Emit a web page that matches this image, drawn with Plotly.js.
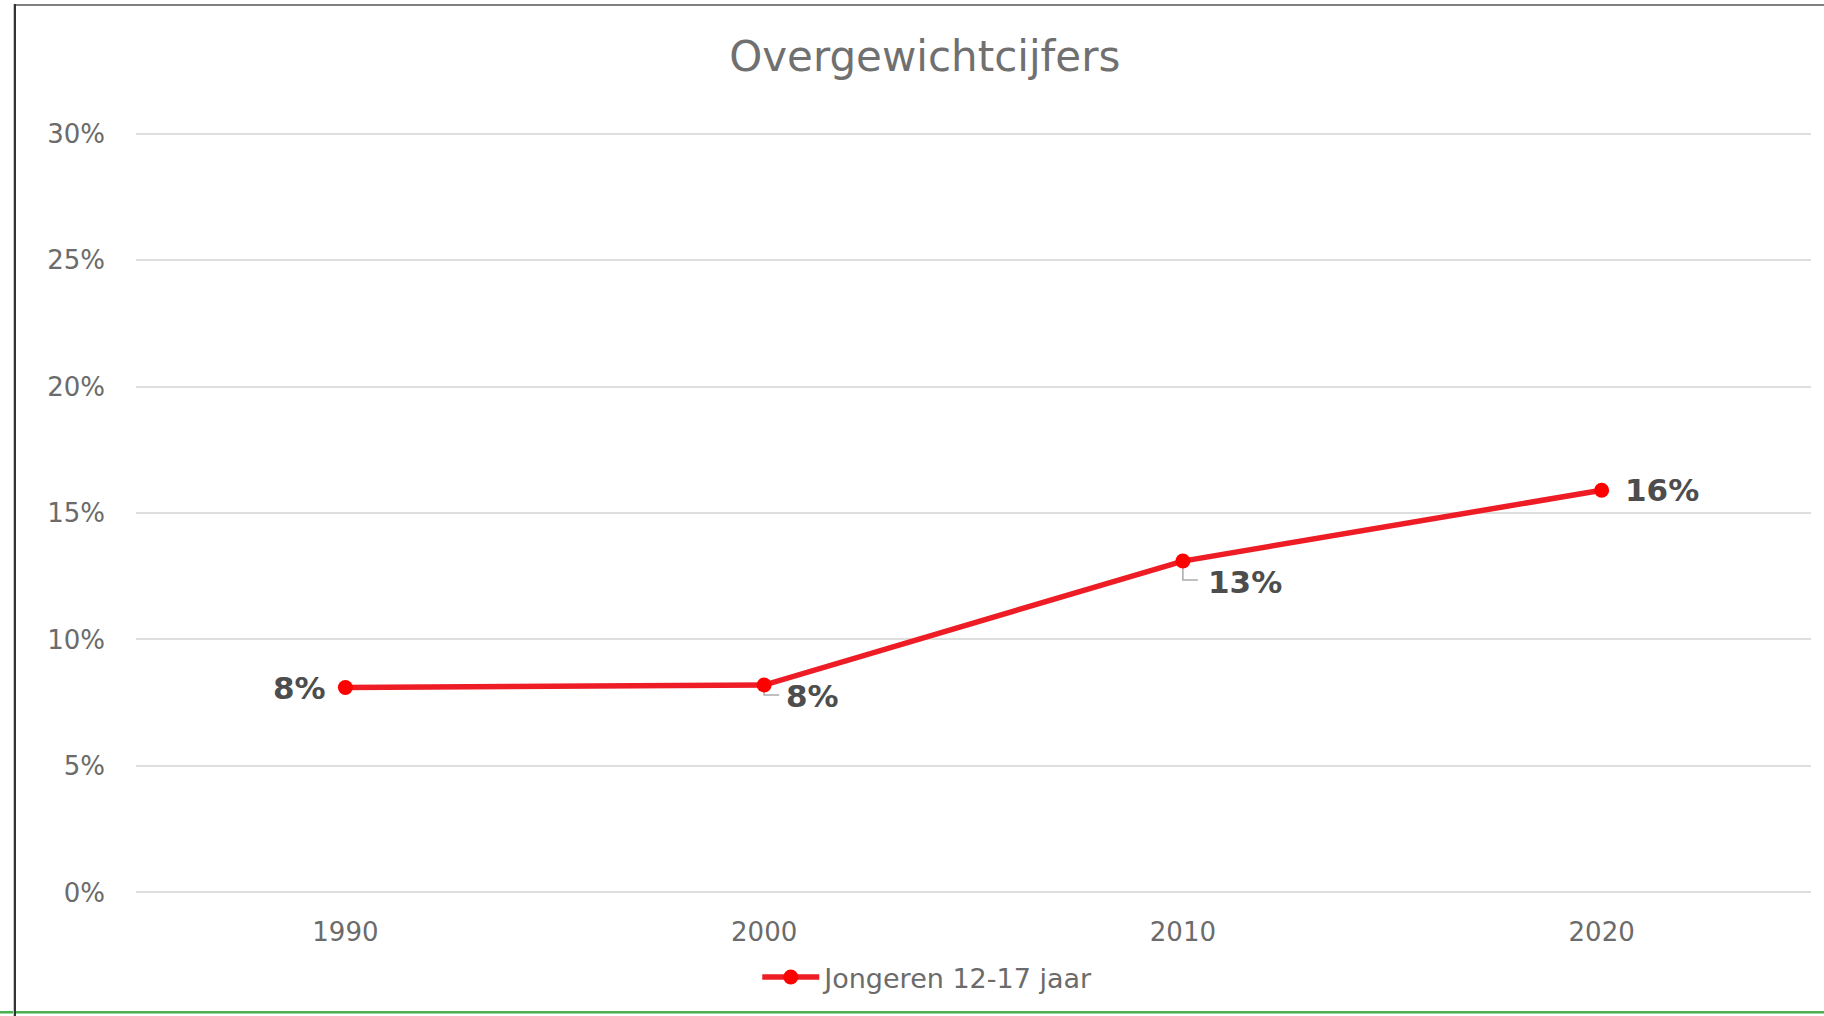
<!DOCTYPE html>
<html>
<head>
<meta charset="utf-8">
<script src="https://cdn.plot.ly/plotly-3.0.1.min.js"></script>
<style>
  html, body { margin: 0; padding: 0; background: #ffffff; }
  #wrap { position: relative; width: 1824px; height: 1016px; overflow: hidden; }
  #chart { position: absolute; left: 0; top: 0; width: 1824px; height: 1016px; }
  .frame { position: absolute; pointer-events: none; }
</style>
</head>
<body>
<div id="wrap">
  <div id="chart"></div>
  <div class="frame" style="left:14px; top:4px; width:1810px; height:2px; background:#7f7f7f;"></div>
  <div class="frame" style="left:0px; top:1011px; width:1824px; height:2px; background:#4caf50;"></div>
  <div class="frame" style="left:0px; top:1013px; width:1824px; height:1px; background:#9ed69f;"></div>
  <div class="frame" style="left:13px; top:4px; width:1px; height:1012px; background:#c8c8c8;"></div>
  <div class="frame" style="left:14px; top:4px; width:2px; height:1012px; background:#333333;"></div>
</div>
<script>
// ---- Data ----
const years = ['1990', '2000', '2010', '2020'];
const overweightYouth = [0.081, 0.082, 0.131, 0.159];
const seriesName = 'Jongeren 12-17 jaar';
const chartTitle = 'Overgewichtcijfers';
const yTickValues = [0, 0.05, 0.10, 0.15, 0.20, 0.25, 0.30];

// ---- Styling ----
const FONT = 'DejaVu Sans, Open Sans, sans-serif';
const TEXT_GRAY = '#6b6b6b';
const LABEL_GRAY = '#4d4d4d';
const LINE_RED = '#ee1c25';
const MARKER_RED = '#ff0000';

// Label placement styles (pixel offsets from each point), one per point
const labelStyle = [
  { xanchor: 'right', xshift: -17, yshift: 0, leader: null },
  { xanchor: 'left', xshift: 20, yshift: -11, leader: 'M0,-7 L0,-10 L15,-10' },
  { xanchor: 'left', xshift: 23, yshift: -21, leader: 'M0,-7 L0,-19 L15,-19' },
  { xanchor: 'left', xshift: 21, yshift: 0, leader: null }
];

const fmtPct = v => Math.round(v * 100) + '%';

const trace = {
  type: 'scatter',
  mode: 'lines+markers',
  x: years,
  y: overweightYouth,
  name: seriesName,
  line: { color: LINE_RED, width: 5.5 },
  marker: { color: MARKER_RED, size: 15 },
  showlegend: true,
  hoverinfo: 'x+y'
};

const annotations = years.map((yr, i) => ({
  x: i,
  y: overweightYouth[i],
  xref: 'x',
  yref: 'y',
  text: '<b>' + fmtPct(overweightYouth[i]) + '</b>',
  showarrow: false,
  xanchor: labelStyle[i].xanchor,
  yanchor: 'middle',
  xshift: labelStyle[i].xshift,
  yshift: labelStyle[i].yshift,
  font: { family: FONT, size: 31, color: LABEL_GRAY }
}));

const shapes = [];
years.forEach((yr, i) => {
  if (labelStyle[i].leader) {
    shapes.push({
      type: 'path',
      xref: 'x', yref: 'y',
      xsizemode: 'pixel', ysizemode: 'pixel',
      xanchor: i, yanchor: overweightYouth[i],
      path: labelStyle[i].leader,
      line: { color: '#aaaaaa', width: 1.5 },
      layer: 'below'
    });
  }
});

const layout = {
  width: 1824,
  height: 1016,
  paper_bgcolor: '#ffffff',
  plot_bgcolor: '#ffffff',
  margin: { l: 136, r: 13, t: 131, b: 121, pad: 0 },
  title: {
    text: chartTitle,
    font: { family: FONT, size: 42, color: '#707070' },
    xref: 'container', x: 0.507, xanchor: 'center',
    yref: 'container', y: 0.945, yanchor: 'middle'
  },
  xaxis: {
    type: 'category',
    categoryorder: 'array',
    categoryarray: years,
    range: [-0.5, years.length - 0.5],
    autorange: false,
    tickfont: { family: FONT, size: 26, color: TEXT_GRAY },
    showgrid: false,
    showline: false,
    zeroline: false,
    ticks: '',
    ticklabelstandoff: 19,
    fixedrange: true
  },
  yaxis: {
    range: [-0.001, 0.301],
    autorange: false,
    tickvals: yTickValues,
    tickformat: '.0%',
    tickfont: { family: FONT, size: 26, color: TEXT_GRAY },
    showgrid: true,
    gridcolor: '#dedede',
    gridwidth: 2,
    zeroline: false,
    showline: false,
    ticks: '',
    ticklabelstandoff: 30,
    fixedrange: true
  },
  showlegend: true,
  legend: {
    orientation: 'h',
    xref: 'paper', yref: 'paper',
    x: 0.473, xanchor: 'center',
    y: -0.108, yanchor: 'middle',
    font: { family: FONT, size: 27, color: TEXT_GRAY },
    itemwidth: 57,
    bgcolor: 'rgba(0,0,0,0)'
  },
  annotations: annotations,
  shapes: shapes
};

Plotly.newPlot('chart', [trace], layout, { displayModeBar: false, staticPlot: true });
</script>
</body>
</html>
